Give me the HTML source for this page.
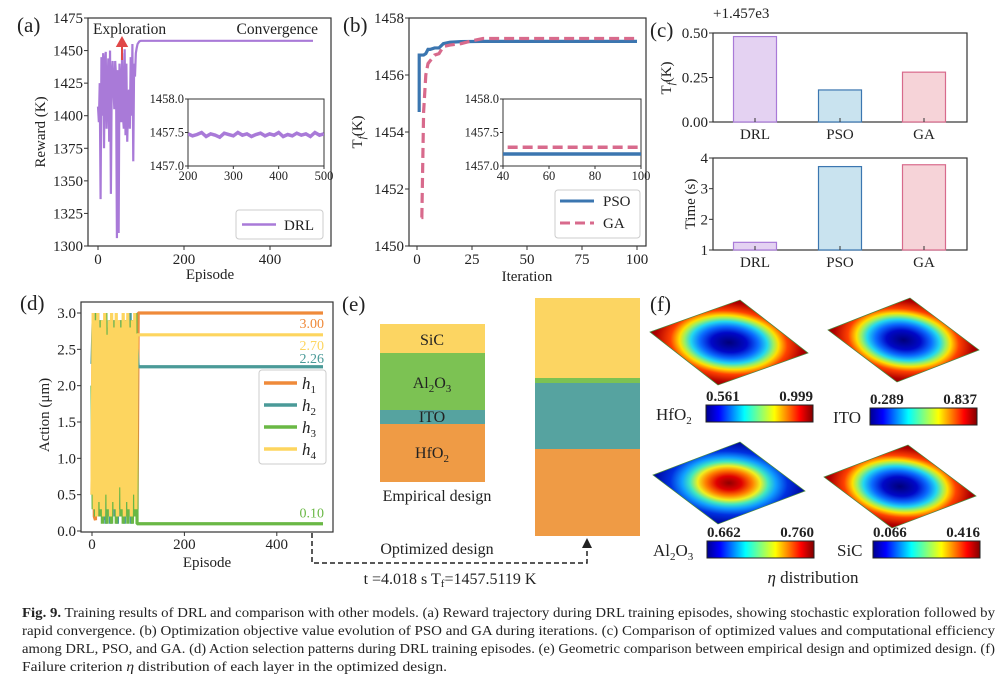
<!DOCTYPE html>
<html><head><meta charset="utf-8"><style>
html,body{margin:0;padding:0;background:#fff;}
svg{display:block;font-family:"Liberation Serif",serif;}
</style></head><body>
<svg id="fig" width="1008" height="680" viewBox="0 0 1008 680" xmlns="http://www.w3.org/2000/svg">
<defs>
<radialGradient id="gBlue" cx="0.5" cy="0.5" r="0.72">
<stop offset="0" stop-color="#00007a"/><stop offset="0.22" stop-color="#0008c8"/><stop offset="0.36" stop-color="#0a6cff"/><stop offset="0.47" stop-color="#22d8f0"/><stop offset="0.55" stop-color="#9ef060"/><stop offset="0.61" stop-color="#ffe000"/><stop offset="0.72" stop-color="#ff4000"/><stop offset="0.9" stop-color="#b00000"/><stop offset="1" stop-color="#900000"/></radialGradient>
<radialGradient id="gRed" cx="0.5" cy="0.5" r="0.72">
<stop offset="0" stop-color="#900000"/><stop offset="0.16" stop-color="#e00000"/><stop offset="0.3" stop-color="#ff8000"/><stop offset="0.4" stop-color="#f0f020"/><stop offset="0.5" stop-color="#40e8c0"/><stop offset="0.6" stop-color="#10a0ff"/><stop offset="0.75" stop-color="#0030e0"/><stop offset="1" stop-color="#000090"/></radialGradient>
<linearGradient id="jet" x1="0" x2="1" y1="0" y2="0">
<stop offset="0" stop-color="#00008f"/><stop offset="0.12" stop-color="#0000ff"/><stop offset="0.36" stop-color="#00ffff"/><stop offset="0.5" stop-color="#80ff80"/><stop offset="0.64" stop-color="#ffff00"/><stop offset="0.88" stop-color="#ff0000"/><stop offset="1" stop-color="#800000"/></linearGradient>
<clipPath id="clipA"><rect x="88" y="18" width="243" height="228"/></clipPath>
<clipPath id="clipAi"><rect x="188" y="99" width="136" height="67"/></clipPath>
<clipPath id="clipB"><rect x="409" y="18" width="237" height="228"/></clipPath>
<clipPath id="clipBi"><rect x="503" y="99" width="138" height="67"/></clipPath>
</defs>
<g id="root"></g>
</svg>
<script>
// ---------- data ----------
const rewardEpisodes = [0,2,4,6,8,10,12,14,16,18,20,22,24,26,28,30,32,34,36,38,40,42,44,46,48,50,52,54,56,58,60,62,64,66,68,70,72,74,76,78,80,82,84,86,88,90,92,94,96,98,100,110,120,500];
const rewardValues = [1407,1395,1425,1336,1445,1400,1448,1375,1440,1449,1390,1420,1444,1380,1450,1340,1430,1442,1420,1405,1442,1430,1306,1435,1310,1440,1420,1395,1448,1400,1390,1451,1385,1440,1380,1410,1420,1390,1445,1400,1455,1365,1440,1430,1448,1452,1455,1456,1457,1457.3,1457.5,1457.5,1457.5,1457.5];
const insetEpisodes = [200,210,220,230,240,250,260,270,280,290,300,310,320,330,340,350,360,370,380,390,400,410,420,430,440,450,460,470,480,490,500];
const insetReward = [1457.48,1457.45,1457.47,1457.5,1457.44,1457.48,1457.46,1457.43,1457.49,1457.47,1457.45,1457.5,1457.46,1457.48,1457.44,1457.47,1457.49,1457.45,1457.48,1457.46,1457.5,1457.44,1457.47,1457.45,1457.49,1457.46,1457.48,1457.44,1457.5,1457.46,1457.48];
const psoIter = [1,1.01,3,4,5,6,8,10,12,15,20,30,50,100];
const psoValues = [1454.7,1456.7,1456.7,1456.75,1456.9,1456.9,1456.95,1456.95,1457.1,1457.15,1457.17,1457.18,1457.18,1457.18];
const gaIter = [2,2.2,3,4,5,6,8,10,12,15,20,25,30,50,100];
const gaValues = [1451,1451,1454.7,1456.0,1456.4,1456.5,1456.7,1456.75,1457.0,1457.05,1457.1,1457.2,1457.28,1457.28,1457.28];
const methods = ['DRL','PSO','GA'];
const tfValues = [0.48,0.18,0.28];
const timeValues = [1.25,3.72,3.78];
const actEpisodes = [0,2.5,5,7.5,10,12.5,15,17.5,20,22.5,25,27.5,30,32.5,35,37.5,40,42.5,45,47.5,50,52.5,55,57.5,60,62.5,65,67.5,70,72.5,75,77.5,80,82.5,85,87.5,90,92.5,95,97.5,100,101,500];
const h1 = [0.5,2.9,0.2,0.15,2.6,0.2,2.9,0.3,2.8,0.2,2.7,0.3,2.9,0.2,2.8,0.3,2.6,0.2,2.9,0.3,2.8,0.2,2.7,0.4,2.9,0.2,2.8,0.3,2.86,0.2,2.9,0.3,2.8,0.2,2.9,0.3,2.8,0.2,2.9,0.3,3.0,3.0,3.0];
const h2 = [2.3,2.9,0.4,3.0,0.2,3.0,0.3,2.9,0.2,2.8,0.15,2.9,0.1,2.7,0.2,2.9,0.1,2.8,0.3,2.9,0.2,2.7,0.1,2.8,0.3,2.9,0.2,2.8,0.1,2.9,0.3,2.8,0.2,3.0,0.1,2.9,0.2,2.8,0.3,2.5,2.26,2.26,2.26];
const h3 = [2.0,0.3,2.9,0.2,3.0,0.3,2.8,0.2,2.9,0.1,2.8,0.4,3.0,0.1,2.7,0.8,2.9,0.1,2.8,0.3,2.9,0.1,2.7,0.5,2.8,0.2,2.9,0.1,2.8,0.7,2.9,0.1,2.7,0.3,2.9,0.1,2.8,0.2,3.0,0.1,0.1,0.1,0.1];
const h4 = [0.5,3.0,0.3,2.9,0.2,3.0,0.4,2.8,0.3,2.9,0.2,3.0,0.5,2.7,0.3,2.9,0.2,3.0,0.4,2.8,0.3,3.0,0.2,2.9,0.6,2.8,0.3,3.0,0.2,2.9,0.4,3.0,0.3,2.8,0.2,2.9,0.5,3.0,0.3,2.7,2.7,2.7,2.7];
const finalLabels = ['3.00','2.70','2.26','0.10'];
const finalValues = [3.00,2.70,2.26,0.10];
const finalColors = ['#ef8a3a','#fdd55f','#4a9a98','#6ab845'];

// ---------- helpers ----------
const NS='http://www.w3.org/2000/svg';
const root=document.getElementById('root');
function el(tag,attrs,parent){const e=document.createElementNS(NS,tag);for(const k in attrs)e.setAttribute(k,attrs[k]);(parent||root).appendChild(e);return e;}
function txt(x,y,s,size,anchor,extra){const t=el('text',Object.assign({x:x,y:y,'font-size':size,'text-anchor':anchor||'start',fill:'#222'},extra||{}));t.textContent=s;return t;}
function lin(d0,d1,r0,r1){return v=>r0+(v-d0)*(r1-r0)/(d1-d0);}
function poly(xs,ys,fx,fy){return xs.map((x,i)=>fx(x).toFixed(2)+','+fy(ys[i]).toFixed(2)).join(' ');}

// ---------- (a) ----------
{
const fx=lin(0,500,98,313), fy=lin(1300,1475,246,18);
const box=el('rect',{x:88,y:18,width:243,height:228,fill:'none',stroke:'#333','stroke-width':1.2});


[1300,1325,1350,1375,1400,1425,1450,1475].forEach(v=>{el('line',{x1:84,x2:88,y1:fy(v),y2:fy(v),stroke:'#333'});const t=txt(83,fy(v)+5,String(v),15,'end');});
[0,200,400].forEach(v=>{el('line',{x1:fx(v),x2:fx(v),y1:246,y2:250,stroke:'#333'});const t=txt(fx(v),264,String(v),15,'middle');});
const line=el('polyline',{points:poly(rewardEpisodes,rewardValues,fx,fy),fill:'none',stroke:'#a97ad8','stroke-width':2.2,'clip-path':'url(#clipA)'});


let t=txt(210,279,'Episode',15,'middle');
t=txt(0,0,'Reward (K)',15,'middle',{transform:'translate(45,132) rotate(-90)'});
t=txt(17,32,'(a)',21,'start');
t=txt(93,34,'Exploration',15.5,'start');
t=txt(318,34,'Convergence',15.5,'end');
const ar=el('path',{d:'M122 60 V44 M117.5 46 L122 38 L126.5 46 Z',stroke:'#e04848','stroke-width':2,fill:'#e04848'});


const ix=lin(200,500,188,324), iy=lin(1457,1458,166,99);
el('rect',{x:188,y:99,width:136,height:67,fill:'#fff',stroke:'#333','stroke-width':1});
[1457.0,1457.5,1458.0].forEach(v=>{el('line',{x1:185,x2:188,y1:iy(v),y2:iy(v),stroke:'#333'});txt(184,iy(v)+4,v.toFixed(1),12.5,'end');});
[200,300,400,500].forEach(v=>{el('line',{x1:ix(v),x2:ix(v),y1:166,y2:169,stroke:'#333'});txt(ix(v),180,String(v),12.5,'middle');});
const il=el('polyline',{points:poly(insetEpisodes,insetReward,ix,iy),fill:'none',stroke:'#a97ad8','stroke-width':3.5,'clip-path':'url(#clipAi)'});


const lg=el('rect',{x:236,y:210,width:87,height:29,fill:'#fff',stroke:'#ccc',rx:3});


el('line',{x1:242,x2:276,y1:224.5,y2:224.5,stroke:'#a97ad8','stroke-width':2.5});
txt(284,230,'DRL',15,'start');
}

// ---------- (b) ----------
{
const fx=lin(0,100,417,637), fy=lin(1450,1458,246,18);
const box=el('rect',{x:409,y:18,width:237,height:228,fill:'none',stroke:'#333','stroke-width':1.2});


[1450,1452,1454,1456,1458].forEach(v=>{el('line',{x1:405,x2:409,y1:fy(v),y2:fy(v),stroke:'#333'});txt(404,fy(v)+5,String(v),15,'end');});
[0,25,50,75,100].forEach(v=>{el('line',{x1:fx(v),x2:fx(v),y1:246,y2:250,stroke:'#333'});txt(fx(v),264,String(v),15,'middle');});
const pl=el('polyline',{points:poly(psoIter,psoValues,fx,fy),fill:'none',stroke:'#3b76b0','stroke-width':3.2,'clip-path':'url(#clipB)'});


const gl=el('polyline',{points:poly(gaIter,gaValues,fx,fy),fill:'none',stroke:'#d86a8c','stroke-width':3.2,'stroke-dasharray':'10,5','clip-path':'url(#clipB)'});


let t=txt(527,281,'Iteration',15,'middle');
t=el('text',{transform:'translate(362,132) rotate(-90)','font-size':15,'text-anchor':'middle',fill:'#222'});t.innerHTML='T<tspan font-size="11" dy="3" font-style="italic">f</tspan><tspan dy="-3">(K)</tspan>';


t=txt(343,32,'(b)',21,'start');
const ix=lin(40,100,503,641), iy=lin(1457,1458,166,99);
el('rect',{x:503,y:99,width:138,height:67,fill:'#fff',stroke:'#333','stroke-width':1});
[1457.0,1457.5,1458.0].forEach(v=>{el('line',{x1:500,x2:503,y1:iy(v),y2:iy(v),stroke:'#333'});txt(499,iy(v)+4,v.toFixed(1),12.5,'end');});
[40,60,80,100].forEach(v=>{el('line',{x1:ix(v),x2:ix(v),y1:166,y2:169,stroke:'#333'});txt(ix(v),180,String(v),12.5,'middle');});
el('polyline',{points:poly(psoIter,psoValues,ix,iy),fill:'none',stroke:'#3b76b0','stroke-width':3.5,'clip-path':'url(#clipBi)'});
el('polyline',{points:poly(gaIter,gaValues,ix,iy),fill:'none',stroke:'#d86a8c','stroke-width':3.5,'stroke-dasharray':'10,5','clip-path':'url(#clipBi)'});
const lg=el('rect',{x:555,y:190,width:85,height:48,fill:'#fff',stroke:'#ccc',rx:3});


el('line',{x1:560,x2:594,y1:201,y2:201,stroke:'#3b76b0','stroke-width':3});
el('line',{x1:560,x2:594,y1:223,y2:223,stroke:'#d86a8c','stroke-width':3,'stroke-dasharray':'10,5'});
txt(603,206,'PSO',15,'start');txt(603,228,'GA',15,'start');
}

// ---------- (c) ----------
{
const fills=['#e4d2f2','#c9e3ef','#f6d3d8'], strokes=['#a97ad8','#3b76b0','#d86a8c'];
const cx=[755,840,924];
const fy=lin(0,0.5,122,33);
el('rect',{x:713,y:33,width:254,height:89,fill:'none',stroke:'#333','stroke-width':1.2});
[0,0.25,0.5].forEach(v=>{el('line',{x1:709,x2:713,y1:fy(v),y2:fy(v),stroke:'#333'});txt(708,fy(v)+5,v.toFixed(2),15,'end');});
tfValues.forEach((v,i)=>{const b=el('rect',{x:cx[i]-21.5,y:fy(v),width:43,height:122-fy(v),fill:fills[i],stroke:strokes[i],'stroke-width':1.2});


el('line',{x1:cx[i],x2:cx[i],y1:122,y2:118,stroke:'#333'});txt(cx[i],139,methods[i],15,'middle');});
txt(713,18,'+1.457e3',15,'start');
let t=el('text',{transform:'translate(671,78) rotate(-90)','font-size':15,'text-anchor':'middle',fill:'#222'});t.innerHTML='T<tspan font-size="11" dy="3" font-style="italic">f</tspan><tspan dy="-3">(K)</tspan>';


t=txt(650,37,'(c)',21,'start');
const gy=lin(1,4,250,158);
el('rect',{x:713,y:158,width:254,height:92,fill:'none',stroke:'#333','stroke-width':1.2});
[1,2,3,4].forEach(v=>{el('line',{x1:709,x2:713,y1:gy(v),y2:gy(v),stroke:'#333'});txt(708,gy(v)+5,String(v),15,'end');});
timeValues.forEach((v,i)=>{const b=el('rect',{x:cx[i]-21.5,y:gy(v),width:43,height:250-gy(v),fill:fills[i],stroke:strokes[i],'stroke-width':1.2});


el('line',{x1:cx[i],x2:cx[i],y1:250,y2:246,stroke:'#333'});txt(cx[i],267,methods[i],15,'middle');});
t=txt(0,0,'Time (s)',15,'middle',{transform:'translate(695,204) rotate(-90)'});
}

// ---------- (d) ----------
{
const fx=lin(0,500,92,323), fy=lin(0,3,531,313);
const box=el('rect',{x:81,y:302,width:252,height:230,fill:'none',stroke:'#333','stroke-width':1.2});


[0,0.5,1,1.5,2,2.5,3].forEach(v=>{el('line',{x1:77,x2:81,y1:fy(v),y2:fy(v),stroke:'#333'});txt(76,fy(v)+5,v.toFixed(1),15,'end');});
[0,200,400].forEach(v=>{el('line',{x1:fx(v),x2:fx(v),y1:532,y2:536,stroke:'#333'});txt(fx(v),549,String(v),15,'middle');});
const series=[['h1',h1,'#ef8a3a'],['h2',h2,'#4a9a98'],['h3',h3,'#6ab845'],['h4',h4,'#fdd55f']];
series.forEach(s=>{const l=el('polyline',{points:poly(actEpisodes,s[1],fx,fy),fill:'none',stroke:s[2],'stroke-width':3.2,'stroke-linejoin':'bevel'});

});
const labelOffsets=[15,15,-4,-6];
finalValues.forEach((v,i)=>{const t=txt(324,fy(v)+labelOffsets[i],finalLabels[i],14,'end',{fill:finalColors[i]});

});
let t=txt(207,567,'Episode',15,'middle');
t=txt(0,0,'Action (μm)',15,'middle',{transform:'translate(49,415) rotate(-90)'});
t=txt(20,310,'(d)',21,'start');
const lg=el('rect',{x:259,y:370,width:67,height:94,fill:'#fff',stroke:'#ccc',rx:3});


series.forEach((s,i)=>{const y=383+i*22;el('line',{x1:264,x2:297,y1:y,y2:y,stroke:s[2],'stroke-width':3.5});
const tt=el('text',{x:302,y:y+6,'font-size':17,'font-style':'italic',fill:'#222'});tt.innerHTML='h<tspan font-size="11" font-style="normal" dy="4">'+(i+1)+'</tspan>';});
}

// ---------- (e) ----------
{
let t=txt(342,311,'(e)',21,'start');
const layers=[['sic',324,353,'#fcd562'],['al2o3',353,410,'#7cc253'],['ito',410,424,'#56a3a0'],['hfo2',424,482,'#ef9b45']];
layers.forEach(l=>{const r=el('rect',{x:380,y:l[1],width:105,height:l[2]-l[1],fill:l[3]});});
txt(432,345,'SiC',16,'middle');
let a=el('text',{x:432,y:388,'font-size':16,'text-anchor':'middle',fill:'#222'});a.innerHTML='Al<tspan font-size="11" dy="4">2</tspan><tspan dy="-4">O</tspan><tspan font-size="11" dy="4">3</tspan>';
txt(432,422,'ITO',16,'middle');
a=el('text',{x:432,y:458,'font-size':16,'text-anchor':'middle',fill:'#222'});a.innerHTML='HfO<tspan font-size="11" dy="4">2</tspan>';
t=txt(437,501,'Empirical design',16,'middle');
const opt=[['sic',298,378,'#fcd562'],['al2o3',378,383,'#7cc253'],['ito',383,449,'#56a3a0'],['hfo2',449,536,'#ef9b45']];
opt.forEach(l=>{const r=el('rect',{x:535,y:l[1],width:105,height:l[2]-l[1],fill:l[3]});});
const p=el('path',{d:'M312 533 V563 H587 V546',fill:'none',stroke:'#222','stroke-width':1.5,'stroke-dasharray':'5,3'});


el('path',{d:'M582 548 L587 538 L592 548 Z',fill:'#222'});
t=txt(437,554,'Optimized design',16,'middle');
t=el('text',{x:450,y:584,'font-size':16,'text-anchor':'middle',fill:'#222'});t.innerHTML='t =4.018 s  T<tspan font-size="11" dy="3">f</tspan><tspan dy="-3">=1457.5119 K</tspan>';


}

// ---------- (f) ----------
{
let t=txt(650,311,'(f)',21,'start');
const maps=[['hfo2',[650,332],[740,300],[718,385],'gBlue'],['ito',[828,330],[910,298],[897,382],'gBlue'],['al2o3',[653,475],[740,442],[718,524],'gRed'],['sic',[824,477],[908,445],[892,528],'gBlue']];
maps.forEach(m=>{const L=m[1],T=m[2],B=m[3];
const r=el('rect',{x:0,y:0,width:1,height:1,fill:'url(#'+m[4]+')',stroke:'#4a8a40','stroke-width':0.01,transform:'matrix('+(T[0]-L[0])+','+(T[1]-L[1])+','+(B[0]-L[0])+','+(B[1]-L[1])+','+L[0]+','+L[1]+')'});

});
const bars=[['hfo2',706,405,'0.561','0.999'],['ito',870,408,'0.289','0.837'],['al2o3',707,541,'0.662','0.760'],['sic',873,541,'0.066','0.416']];
bars.forEach(b=>{const r=el('rect',{x:b[1],y:b[2],width:107,height:17,fill:'url(#jet)',stroke:'#222','stroke-width':1});


txt(b[1],b[2]-4,b[3],15,'start',{'font-weight':'bold'});txt(b[1]+107,b[2]-4,b[4],15,'end',{'font-weight':'bold'});});
let a=el('text',{x:656,y:420,'font-size':17,fill:'#222'});a.innerHTML='HfO<tspan font-size="11" dy="4">2</tspan>';
txt(833,423,'ITO',17,'start');
a=el('text',{x:653,y:556,'font-size':17,fill:'#222'});a.innerHTML='Al<tspan font-size="11" dy="4">2</tspan><tspan dy="-4">O</tspan><tspan font-size="11" dy="4">3</tspan>';
txt(837,556,'SiC',17,'start');
t=el('text',{x:813,y:583,'font-size':17,'text-anchor':'middle',fill:'#222'});t.innerHTML='<tspan font-style="italic">η</tspan> distribution';


}

// ---------- caption ----------
{
const lines=[['<tspan font-weight="bold">Fig. 9.</tspan>  Training results of DRL and comparison with other models. (a) Reward trajectory during DRL training episodes, showing stochastic exploration followed by',617,973],
['rapid convergence. (b) Optimization objective value evolution of PSO and GA during iterations. (c) Comparison of optimized values and computational efficiency',635,973],
['among DRL, PSO, and GA. (d) Action selection patterns during DRL training episodes. (e) Geometric comparison between empirical design and optimized design. (f)',653,973],
['Failure criterion <tspan font-style="italic">η</tspan> distribution of each layer in the optimized design.',671,425]];
lines.forEach((l,i)=>{const t=el('text',{x:22,y:l[1],'font-size':13.5,textLength:l[2],lengthAdjust:'spacingAndGlyphs',fill:'#222','font-family':'Liberation Serif, serif'});t.innerHTML=l[0];

});
}
</script>
</body></html>
